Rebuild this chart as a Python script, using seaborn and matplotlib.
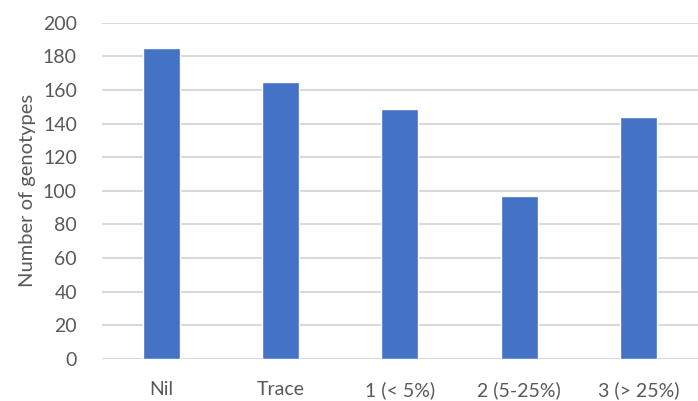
import matplotlib
matplotlib.use("Agg")
import matplotlib.pyplot as plt
import seaborn as sns
import pandas as pd

categories = ["Nil", "Trace", "1 (< 5%)", "2 (5-25%)", "3 (> 25%)"]
genotypes = [185, 165, 149, 97, 144]
y_ticks = [0, 20, 40, 60, 80, 100, 120, 140, 160, 180, 200]

df = pd.DataFrame({"severity": categories, "count": genotypes})

sns.set_theme(style="white")
plt.rcParams["font.family"] = ["Lato", "DejaVu Sans"]

fig = plt.figure(figsize=(6.98, 4.01), dpi=100)
ax = fig.add_axes([0.146, 0.105, 0.854, 0.838])

sns.barplot(data=df, x="severity", y="count", color="#4472C4",
            width=0.31, saturation=1, ax=ax)

ax.set_ylim(0, 200)
ax.set_yticks(y_ticks)
ax.yaxis.grid(True, color="#D9D9D9", linewidth=1.5)
ax.set_axisbelow(True)
for s in ax.spines.values():
    s.set_visible(False)

ax.tick_params(axis="y", length=0, pad=18, labelsize=14, labelcolor="#595959")
ax.tick_params(axis="x", length=0, pad=16, labelsize=14, labelcolor="#595959")
ax.set_xlabel("")
ax.set_ylabel("Number of genotypes", fontsize=14.5, color="#595959", labelpad=5)

fig.savefig("out.png", dpi=100)
